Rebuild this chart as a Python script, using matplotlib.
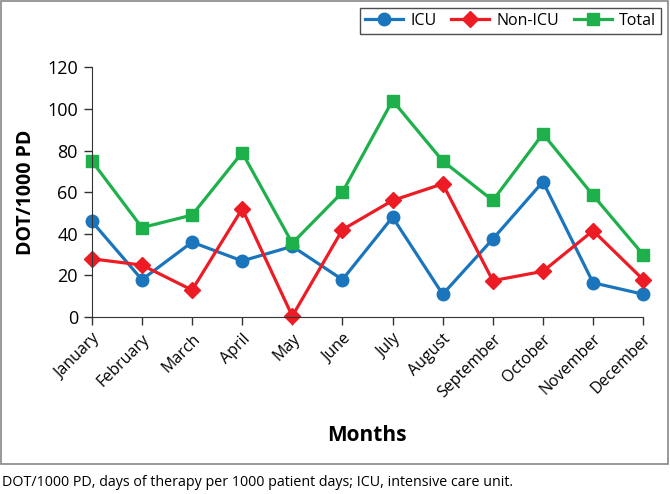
import matplotlib
matplotlib.use("Agg")
import matplotlib.pyplot as plt
from matplotlib.patches import Rectangle

months = ["January", "February", "March", "April", "May", "June", "July",
          "August", "September", "October", "November", "December"]
icu = [46, 18, 36, 27, 34, 18, 48, 11, 37.5, 65, 16.5, 11]
non_icu = [28, 25, 13, 52, 0.5, 42, 56, 64, 17.5, 22, 41.5, 18]
total = [75, 43, 49, 79, 35.5, 60, 104, 75, 56, 88, 58.5, 30]
yticks = [0, 20, 40, 60, 80, 100, 120]

plt.rcParams['font.family'] = ['Open Sans', 'DejaVu Sans']

fig = plt.figure(figsize=(6.7, 4.94), dpi=100)
ax = fig.add_axes([0.137, 0.358, 0.823, 0.506])

x = range(len(months))
ax.plot(x, icu, color='#1B75BC', lw=2.3, marker='o', ms=9, label='ICU')
ax.plot(x, non_icu, color='#ED1C24', lw=2.3, marker='D', ms=8, label='Non-ICU')
ax.plot(x, total, color='#1DB04B', lw=2.3, marker='s', ms=9, label='Total')

ax.set_xlim(0, len(months) - 1)
ax.set_ylim(0, 120)
ax.set_yticks(yticks)
ax.set_yticklabels([str(v) for v in yticks], fontsize=13)
ax.set_xticks(list(x))
ax.set_xticklabels(months, rotation=45, ha='right', rotation_mode='anchor', fontsize=11.5)
ax.tick_params(direction='out', length=6, width=1, color='#333333', pad=4)
ax.spines['top'].set_visible(False)
ax.spines['right'].set_visible(False)
ax.spines['left'].set_color('#333333')
ax.spines['bottom'].set_color('#333333')
for line in ax.lines:
    line.set_clip_on(False)

ax.set_ylabel('DOT/1000 PD', fontsize=14, fontweight='bold', labelpad=8)
fig.text(0.548, 0.118, 'Months', fontsize=15, fontweight='bold', ha='center', va='center')

leg = fig.legend(loc='upper right', bbox_to_anchor=(0.987, 0.984), ncol=3,
                 frameon=True, fancybox=False, edgecolor='#222222', fontsize=11.5,
                 handlelength=2.4, columnspacing=0.9, handletextpad=0.45,
                 borderpad=0.32, borderaxespad=0)
leg.get_frame().set_linewidth(1.0)

fig.patches.append(Rectangle((0.0015, 0.06), 0.995, 0.938, transform=fig.transFigure,
                             fill=False, edgecolor='#888888', lw=1.2))
fig.text(0.003, 0.024, 'DOT/1000 PD, days of therapy per 1000 patient days; ICU, intensive care unit.',
         fontsize=10.3, ha='left', va='center')

fig.savefig('out.png', dpi=100)
